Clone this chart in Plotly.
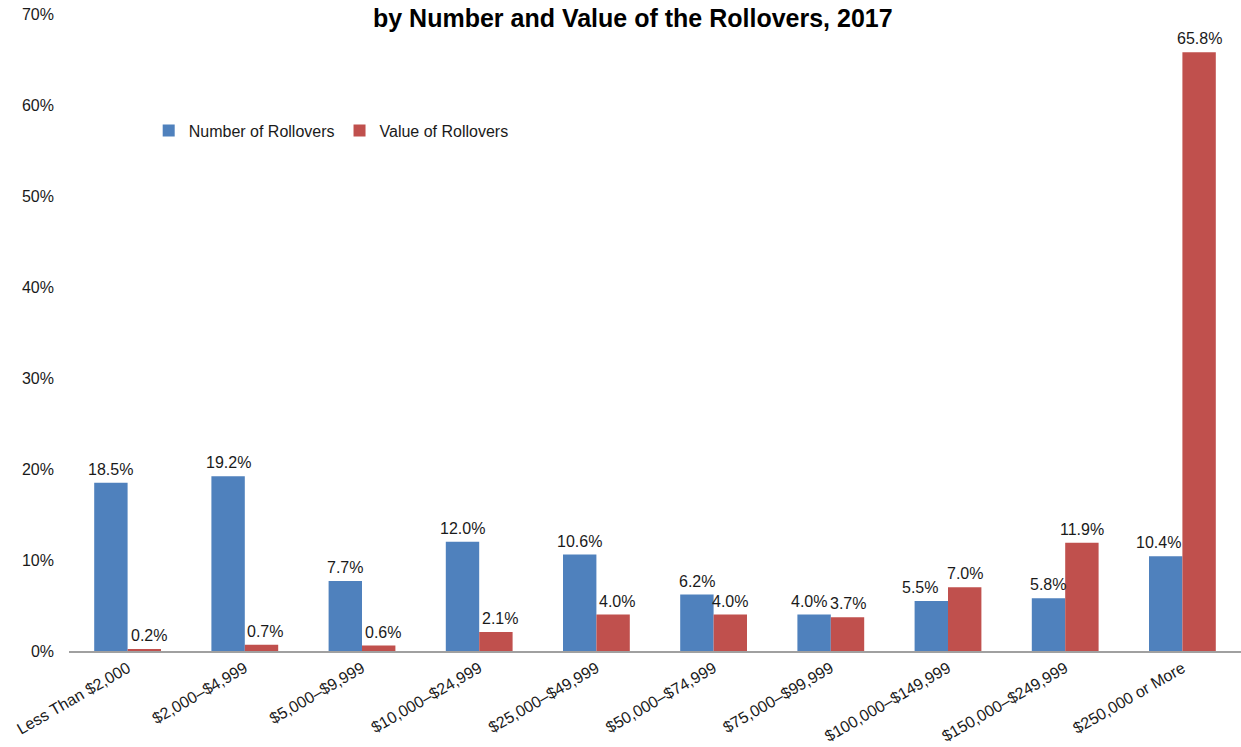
import plotly.graph_objects as go

categories = [
    "Less Than $2,000", "$2,000–$4,999", "$5,000–$9,999", "$10,000–$24,999",
    "$25,000–$49,999", "$50,000–$74,999", "$75,000–$99,999",
    "$100,000–$149,999", "$150,000–$249,999", "$250,000 or More",
]
number_pct = [18.5, 19.2, 7.7, 12.0, 10.6, 6.2, 4.0, 5.5, 5.8, 10.4]
value_pct = [0.2, 0.7, 0.6, 2.1, 4.0, 4.0, 3.7, 7.0, 11.9, 65.8]
y_ticks = [0, 10, 20, 30, 40, 50, 60, 70]

FONT = "Liberation Sans, Arial, sans-serif"
TXT = "#1a1a1a"

# geometry of the grouped bars (pixels)
PLOT_W = 1241 - 69
BARGAP = 0.43
BAR_PX = PLOT_W / len(categories) * (1 - BARGAP) / 2

# small horizontal nudges for crowded value labels (pixels)
label_nudge_number = [0, 0, 0, 0, 0, 0, -5, -11, 0, -7]
label_nudge_value = [5, 3, 4, 4, 4, 0, 0, 0, 0, 0]

fig = go.Figure()
series = [
    ("Number of Rollovers", number_pct, "#4F81BD", -1, label_nudge_number),
    ("Value of Rollovers", value_pct, "#C0504D", 1, label_nudge_value),
]
for name, vals, color, side, nudges in series:
    fig.add_trace(go.Bar(
        name=name, x=categories, y=vals,
        marker=dict(color=color, line=dict(width=0)),
        cliponaxis=False,
    ))
    for cat, v, dx in zip(categories, vals, nudges):
        fig.add_annotation(
            x=cat, y=v, xref="x", yref="y",
            text=f"{v:.1f}%", showarrow=False,
            xanchor="center", yanchor="bottom",
            xshift=side * BAR_PX / 2 + dx, yshift=3,
            font=dict(family=FONT, size=16, color=TXT),
        )

fig.update_layout(
    width=1241, height=747,
    margin=dict(l=69, r=0, t=14, b=96),
    paper_bgcolor="white", plot_bgcolor="white",
    barmode="group", bargap=BARGAP, bargroupgap=0,
    font=dict(family=FONT, size=16, color=TXT),
    showlegend=True,
    legend=dict(
        orientation="h", x=0.068, y=0.817, xanchor="left", yanchor="middle",
        font=dict(family=FONT, size=16, color=TXT),
        itemwidth=30, tracegroupgap=0, bgcolor="rgba(0,0,0,0)",
    ),
)
fig.add_annotation(
    text="<b>by Number and Value of the Rollovers, 2017</b>",
    xref="paper", yref="paper", x=0.481, y=1.0, yshift=-19,
    xanchor="center", yanchor="bottom", showarrow=False, borderpad=0,
    font=dict(family=FONT, size=25, color="#000000"),
)
fig.update_xaxes(
    showline=True, linecolor="#A0A0A0", linewidth=2,
    showgrid=False, ticks="", tickangle=-30,
    tickfont=dict(family=FONT, size=16, color=TXT),
)
fig.update_yaxes(
    range=[0, 70], tickvals=y_ticks, ticktext=[f"{v}%" for v in y_ticks],
    showgrid=False, zeroline=False, showline=False, ticks="",
    tickfont=dict(family=FONT, size=16, color=TXT),
    ticklabelstandoff=14,
)

fig.write_html("out.html")
